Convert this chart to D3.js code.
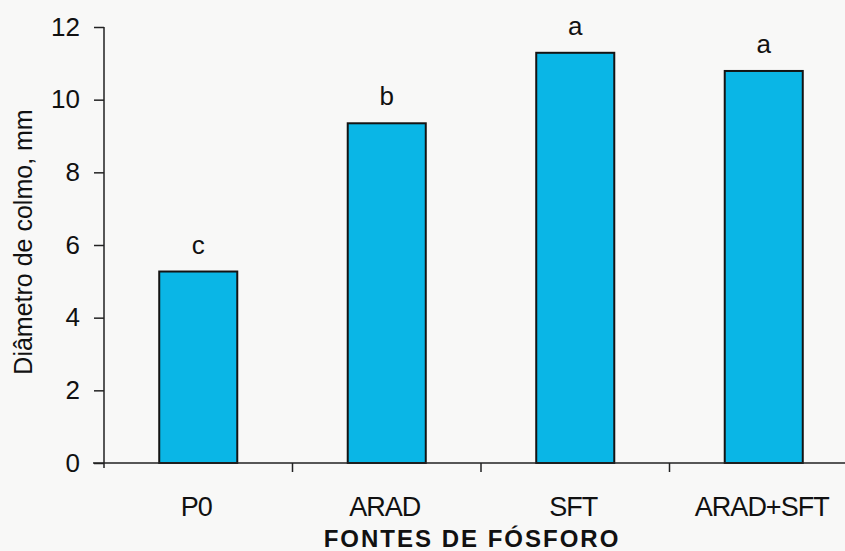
<!DOCTYPE html>
<html>
<head>
<meta charset="utf-8">
<script src="https://cdn.jsdelivr.net/npm/d3@7/dist/d3.min.js"></script>
<style>
  html, body { margin: 0; padding: 0; background: #f8f8f7; }
  svg { display: block; }
  text { font-family: "Liberation Sans", Arial, sans-serif; fill: #111; }
</style>
</head>
<body>
<svg id="chart" width="845" height="551"></svg>
<script>
// Diâmetro de colmo por fonte de fósforo
const categories = ["P0", "ARAD", "SFT", "ARAD+SFT"];
const values = [5.27, 9.35, 11.29, 10.79];
const letters = ["c", "b", "a", "a"];
const yTicks = [0, 2, 4, 6, 8, 10, 12];

const svg = d3.select("#chart");
const W = 845, H = 551;
const plotLeft = 104, plotTop = 27, plotBottom = 463;
const plotRight = 858; // last band runs past the frame

svg.append("rect").attr("width", W).attr("height", H).attr("fill", "#f8f8f7");

const x = d3.scaleBand()
  .domain(categories)
  .range([plotLeft, plotRight])
  .paddingInner(0.586)
  .paddingOuter(0.293);

const band = d3.scaleBand().domain(categories).range([plotLeft, plotRight]).padding(0);

const y = d3.scaleLinear().domain([0, 12]).range([plotBottom, plotTop]);

// Bars
svg.append("g").selectAll("rect")
  .data(categories)
  .join("rect")
  .attr("x", d => x(d))
  .attr("y", (d, i) => y(values[i]))
  .attr("width", x.bandwidth())
  .attr("height", (d, i) => y(0) - y(values[i]))
  .attr("fill", "#0ab6e6")
  .attr("stroke", "#141414")
  .attr("stroke-width", 2);

// Significance letters
svg.append("g").selectAll("text")
  .data(categories)
  .join("text")
  .attr("x", d => x(d) + x.bandwidth() / 2)
  .attr("y", (d, i) => y(values[i]) - 18)
  .attr("text-anchor", "middle")
  .attr("font-size", 26)
  .text((d, i) => letters[i]);

// Y axis
const yAxis = d3.axisLeft(y)
  .tickValues(yTicks)
  .tickFormat(d3.format("d"))
  .tickSize(10)
  .tickPadding(14);

const gy = svg.append("g")
  .attr("transform", `translate(${plotLeft},0)`)
  .call(yAxis);
gy.select(".domain").remove();
gy.append("line")
  .attr("x1", 0).attr("x2", 0)
  .attr("y1", plotTop).attr("y2", plotBottom + 5)
  .attr("stroke", "#222").attr("stroke-width", 1.5);
gy.selectAll(".tick line").attr("stroke", "#222").attr("stroke-width", 1.5);
gy.selectAll(".tick text")
  .attr("font-size", 26)
  .attr("font-family", "Liberation Sans, Arial, sans-serif")
  .attr("fill", "#111");

// X axis baseline and category separators
svg.append("line")
  .attr("x1", plotLeft - 11).attr("x2", W)
  .attr("y1", y(0)).attr("y2", y(0))
  .attr("stroke", "#222").attr("stroke-width", 1.5);

svg.append("g").selectAll("line")
  .data(categories.slice(1))
  .join("line")
  .attr("x1", d => band(d)).attr("x2", d => band(d))
  .attr("y1", y(0)).attr("y2", y(0) + 9)
  .attr("stroke", "#222").attr("stroke-width", 1.5);

// Category labels
svg.append("g").selectAll("text")
  .data(categories)
  .join("text")
  .attr("x", d => band(d) + band.bandwidth() / 2 - 2)
  .attr("y", 516)
  .attr("text-anchor", "middle")
  .attr("font-size", 27)
  .attr("letter-spacing", -1)
  .text(d => d);

// Axis titles
svg.append("text")
  .attr("x", 472)
  .attr("y", 547)
  .attr("text-anchor", "middle")
  .attr("font-size", 24)
  .attr("font-weight", "bold")
  .attr("letter-spacing", 2)
  .text("FONTES DE FÓSFORO");

svg.append("text")
  .attr("transform", "translate(32,242) rotate(-90)")
  .attr("text-anchor", "middle")
  .attr("font-size", 25)
  .text("Diâmetro de colmo, mm");
</script>
</body>
</html>
